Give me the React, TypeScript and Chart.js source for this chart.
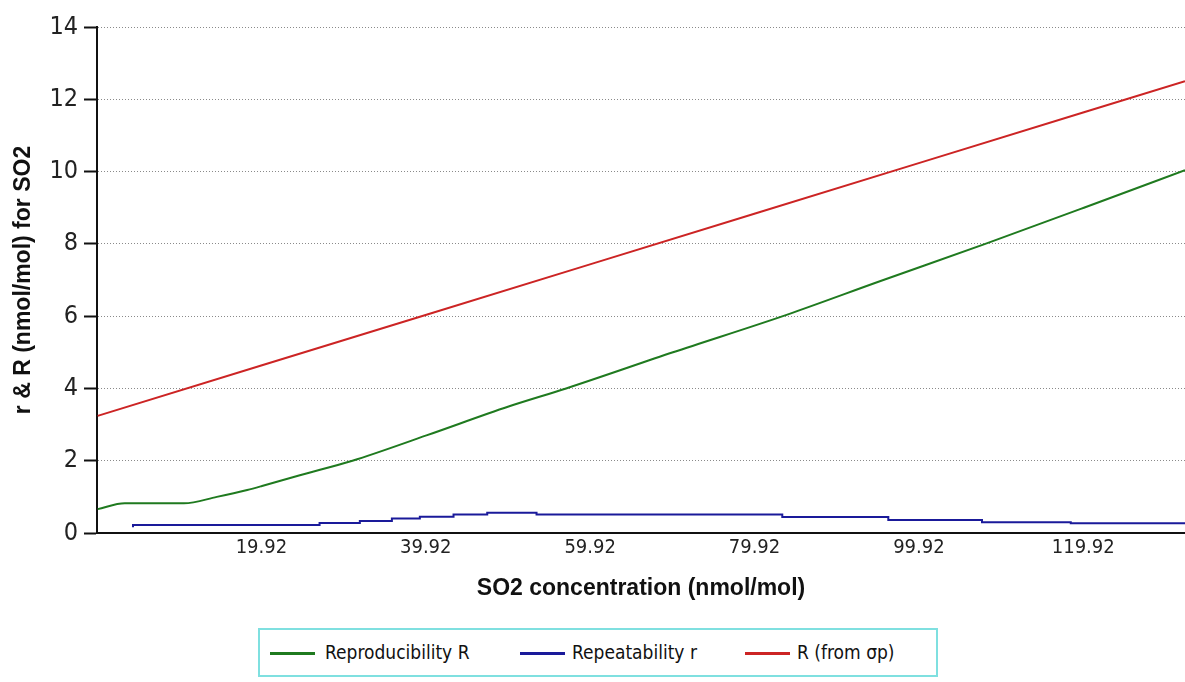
import React, { useEffect, useRef } from "react";
import { Chart, registerables } from "chart.js";

Chart.register(...registerables);

// SO2 concentration (nmol/mol) sample positions and values
const reproX = [0, 3.3, 10.5, 14.5, 18.2, 20, 24.6, 31, 40, 50, 57, 70, 84, 95, 108, 120, 132.3];
const reproY = [0.66, 0.82, 0.82, 1.0, 1.19, 1.3, 1.6, 2.0, 2.7, 3.5, 4.0, 5.0, 6.05, 6.95, 8.0, 9.0, 10.04];

const repeatX = [4.3, 27.0, 31.9, 35.8, 39.2, 43.3, 47.4, 53.4, 83.3, 96.2, 107.6, 118.4, 129.2, 132.3];
const repeatY = [0.16, 0.22, 0.28, 0.33, 0.4, 0.45, 0.51, 0.56, 0.51, 0.44, 0.36, 0.3, 0.27, 0.27];

const sigmaX = [0, 20, 40, 60, 80, 100, 120, 132.3];
const sigmaY = [3.24, 4.64, 6.04, 7.44, 8.84, 10.24, 11.64, 12.5];

const xTicks = [19.92, 39.92, 59.92, 79.92, 99.92, 119.92];
const seriesNames = ["Reproducibility R", "Repeatability r", "R (from σp)"];
const seriesColors = ["#1f7a1f", "#1a1a9a", "#cc2424"];

const NARROW = '"Liberation Sans Narrow", "DejaVu Sans Condensed", "Liberation Sans", sans-serif';
const SANS = '"Liberation Sans", Arial, sans-serif';

const pts = (xs: number[], ys: number[]) => xs.map((x, i) => ({ x, y: ys[i] }));

export default function App() {
  const ref = useRef<HTMLCanvasElement | null>(null);

  useEffect(() => {
    if (!ref.current) return;
    const chart = new Chart(ref.current, {
      type: "line",
      data: {
        datasets: [
          {
            label: seriesNames[0],
            data: pts(reproX, reproY),
            borderColor: seriesColors[0],
            borderWidth: 2,
            pointRadius: 0,
            cubicInterpolationMode: "monotone",
          },
          {
            label: seriesNames[1],
            data: pts(repeatX, repeatY),
            borderColor: seriesColors[1],
            borderWidth: 2,
            pointRadius: 0,
            stepped: "after",
          },
          {
            label: seriesNames[2],
            data: pts(sigmaX, sigmaY),
            borderColor: seriesColors[2],
            borderWidth: 2,
            pointRadius: 0,
          },
        ],
      },
      options: {
        animation: false,
        responsive: false,
        maintainAspectRatio: false,
        layout: { padding: { left: 0, right: 0, top: 27, bottom: 60 } },
        plugins: { legend: { display: false }, tooltip: { enabled: false } },
        scales: {
          x: {
            type: "linear",
            min: -0.08,
            max: 132.3,
            afterBuildTicks: (scale: any) => {
              scale.ticks = xTicks.map((v) => ({ value: v }));
            },
            afterFit: (scale: any) => {
              scale.height = 89;
            },
            ticks: {
              callback: (v: any) => Number(v).toFixed(2),
              color: "#222",
              padding: 3,
              maxRotation: 0,
              autoSkip: false,
              font: { family: NARROW, size: 20 },
            },
            grid: { display: true, drawOnChartArea: false, drawTicks: false },
            border: { display: true, color: "#111", width: 2 },
            title: {
              display: true,
              text: "SO2 concentration (nmol/mol)",
              color: "#111",
              font: { family: SANS, size: 23, weight: "bold" },
              padding: { top: 0, bottom: 20 },
            },
          },
          y: {
            min: 0,
            max: 14,
            afterFit: (scale: any) => {
              scale.width = 97;
            },
            ticks: {
              stepSize: 2,
              color: "#222",
              padding: 6,
              font: { family: NARROW, size: 25 },
            },
            grid: {
              color: "#8a8a8a",
              lineWidth: 1,
              tickLength: 13,
              tickColor: "#111",
              tickWidth: 2,
              tickBorderDash: [],
            },
            border: { display: true, color: "#111", width: 2, dash: [1, 2] },
            title: {
              display: true,
              text: "r & R (nmol/mol) for SO2",
              color: "#111",
              font: { family: SANS, size: 23, weight: "bold" },
              padding: { top: 10, bottom: 0 },
            },
          },
        },
      },
    });
    return () => chart.destroy();
  }, []);

  const legendItems = [
    { line: 270, text: 325 },
    { line: 520, text: 572 },
    { line: 745, text: 797 },
  ];

  return (
    <div style={{ position: "absolute", left: 0, top: 0, width: 1185, height: 682, background: "#fff", overflow: "hidden" }}>
      <canvas ref={ref} width={1185} height={682} style={{ position: "absolute", left: 0, top: 0, width: 1185, height: 682 }} />
      <div
        style={{
          position: "absolute",
          left: 258,
          top: 628,
          width: 680,
          height: 49,
          boxSizing: "border-box",
          border: "2px solid #7fe0e0",
          background: "#fff",
        }}
      >
        {legendItems.map((it, i) => (
          <React.Fragment key={i}>
            <div
              style={{
                position: "absolute",
                left: it.line - 258 - 2,
                top: 22,
                width: 45,
                height: 3,
                background: seriesColors[i],
              }}
            />
            <div
              style={{
                position: "absolute",
                left: it.text - 258 - 2,
                top: 10,
                fontFamily: NARROW,
                fontSize: 19,
                lineHeight: "24px",
                color: "#111",
                whiteSpace: "nowrap",
              }}
            >
              {seriesNames[i]}
            </div>
          </React.Fragment>
        ))}
      </div>
    </div>
  );
}
